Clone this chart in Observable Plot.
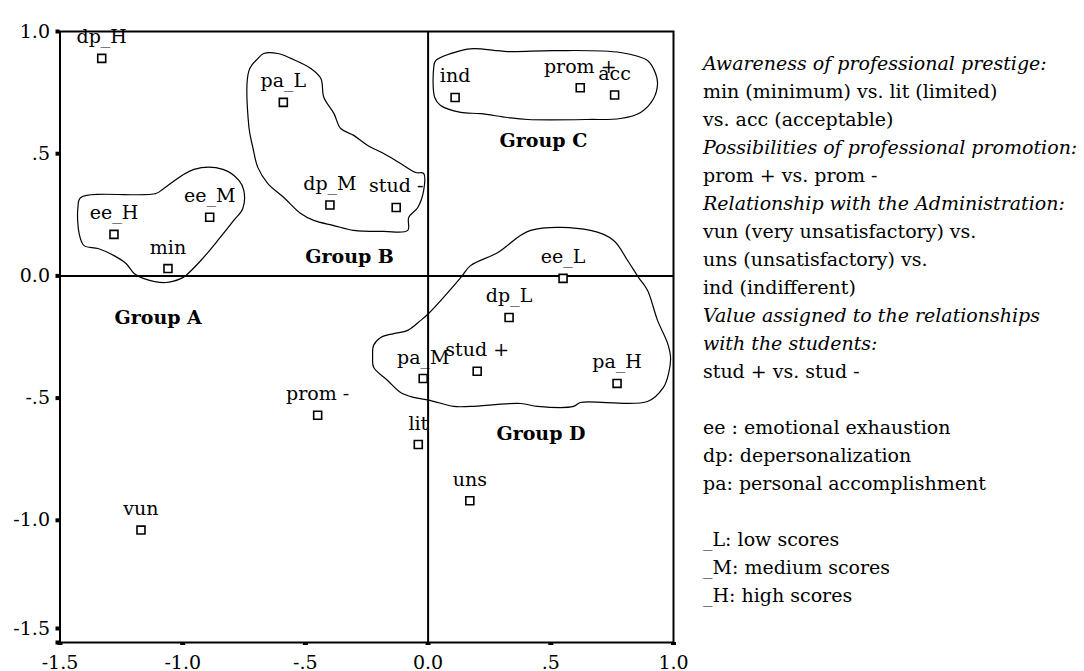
<!DOCTYPE html>
<html><head><meta charset="utf-8">
<script src="https://cdn.jsdelivr.net/npm/d3@7"></script>
<script src="https://cdn.jsdelivr.net/npm/@observablehq/plot@0.6"></script>
<style>
body{margin:0;background:#fff;}
#chart{position:absolute;left:0;top:0;}
#legend{position:absolute;left:703px;top:49px;font-family:"DejaVu Serif";font-size:19px;line-height:28px;white-space:nowrap;color:#000;}
</style></head><body>
<div id="chart"></div><div id="legend"></div>
<script>
// Points (dimension 1, dimension 2)
const pointLabels = ["dp_H","pa_L","ee_H","ee_M","min","dp_M","stud -","ind","prom +","acc","ee_L","dp_L","pa_M","stud +","pa_H","lit","uns","prom -","vun"];
const dim1 = [-1.33,-0.59,-1.28,-0.89,-1.06,-0.40,-0.13,0.11,0.62,0.76,0.55,0.33,-0.02,0.20,0.77,-0.04,0.17,-0.45,-1.17];
const dim2 = [0.89,0.71,0.17,0.24,0.03,0.29,0.28,0.73,0.77,0.74,-0.01,-0.17,-0.42,-0.39,-0.44,-0.69,-0.92,-0.57,-1.04];

// Group names and label anchors
const groupNames = ["Group A","Group B","Group C","Group D"];
const groupLabelX = [-1.10,-0.32,0.47,0.46];
const groupLabelY = [-0.195,0.051,0.529,-0.673];

// Group outlines (traced)
const outlineA_x = [-1.415,-1.109,-1.077,-0.954,-0.836,-0.771,-0.751,-0.755,-0.792,-0.857,-0.926,-0.987,-1.008,-1.069,-1.158,-1.198,-1.231,-1.280,-1.345,-1.402,-1.422,-1.427];
const outlineA_y = [0.321,0.337,0.358,0.436,0.436,0.391,0.350,0.276,0.227,0.145,0.063,0.002,-0.011,-0.027,-0.011,0.010,0.051,0.083,0.112,0.124,0.173,0.280];
const outlineB_x = [-0.670,-0.612,-0.559,-0.478,-0.437,-0.425,-0.384,-0.356,-0.303,-0.246,-0.181,-0.112,-0.050,-0.018,-0.018,-0.042,-0.079,-0.083,-0.181,-0.303,-0.384,-0.466,-0.519,-0.588,-0.653,-0.694,-0.714,-0.730,-0.730,-0.694];
const outlineB_y = [0.910,0.910,0.890,0.849,0.808,0.731,0.665,0.603,0.575,0.534,0.501,0.460,0.423,0.419,0.350,0.280,0.239,0.186,0.182,0.186,0.206,0.227,0.255,0.321,0.378,0.444,0.525,0.607,0.840,0.889];
const outlineC_x = [0.031,0.133,0.186,0.324,0.511,0.784,0.894,0.927,0.935,0.919,0.866,0.784,0.650,0.406,0.324,0.214,0.133,0.051,0.027,0.023];
const outlineC_y = [0.881,0.922,0.930,0.918,0.922,0.914,0.881,0.828,0.787,0.726,0.669,0.644,0.640,0.640,0.648,0.664,0.669,0.697,0.730,0.853];
const outlineD_x = [0.002,0.133,0.173,0.283,0.418,0.662,0.756,0.813,0.858,0.894,0.935,0.976,0.988,0.980,0.959,0.894,0.621,0.593,0.446,0.377,0.173,0.104,0.011,-0.059,-0.112,-0.165,-0.222,-0.226,-0.222,-0.193,-0.140,-0.083,-0.030];
const outlineD_y = [-0.154,-0.007,0.042,0.095,0.186,0.186,0.145,0.063,-0.007,-0.059,-0.182,-0.276,-0.333,-0.399,-0.456,-0.514,-0.518,-0.534,-0.534,-0.522,-0.534,-0.534,-0.510,-0.497,-0.477,-0.428,-0.374,-0.333,-0.284,-0.252,-0.236,-0.223,-0.182];

// Axis ticks
const tickValues = [-1.5,-1,-0.5,0,0.5,1];
const tickLabels = ["-1.5","-1.0","-.5","0.0",".5","1.0"];

// Legend text
const legendLines = [
  "Awareness of professional prestige:",
  "min (minimum) vs. lit (limited)",
  "vs. acc (acceptable)",
  "Possibilities of professional promotion:",
  "prom + vs. prom -",
  "Relationship with the Administration:",
  "vun (very unsatisfactory) vs.",
  "uns (unsatisfactory) vs.",
  "ind (indifferent)",
  "Value assigned to the relationships",
  "with the students:",
  "stud + vs. stud -",
  "",
  "ee : emotional exhaustion",
  "dp: depersonalization",
  "pa: personal accomplishment",
  "",
  "_L: low scores",
  "_M: medium scores",
  "_H: high scores"
];
const legendItalic = [true,false,false,true,false,true,false,false,false,true,true,false,false,false,false,false,false,false,false,false];

const points = pointLabels.map((label, i) => ({label, x: dim1[i], y: dim2[i]}));
const groups = groupNames.map((name, i) => ({name, x: groupLabelX[i], y: groupLabelY[i]}));
const outlines = [];
[["A", outlineA_x, outlineA_y], ["B", outlineB_x, outlineB_y], ["C", outlineC_x, outlineC_y], ["D", outlineD_x, outlineD_y]]
  .forEach(([g, xs, ys]) => xs.forEach((x, i) => outlines.push({group: g, x, y: ys[i]})));
const fmt = d => tickLabels[tickValues.indexOf(d)];

const chart = Plot.plot({
  width: 700, height: 671,
  marginLeft: 59.5, marginRight: 27, marginTop: 31, marginBottom: 29,
  x: {domain: [-1.5, 1], label: null},
  y: {domain: [-1.5, 1], label: null},
  style: {fontFamily: "DejaVu Serif", fontSize: "19px", color: "black", background: "white", overflow: "visible"},
  marks: [
    Plot.line(outlines, {x: "x", y: "y", z: "group", curve: "catmull-rom-closed", stroke: "black", strokeWidth: 1.2}),
    Plot.ruleX([0], {stroke: "black", strokeWidth: 2}),
    Plot.ruleY([0], {stroke: "black", strokeWidth: 2}),
    Plot.frame({stroke: "black", strokeWidth: 2}),
    Plot.axisY({ticks: tickValues, tickSize: 4, strokeWidth: 4, tickPadding: 6, tickFormat: d => d === -1.5 ? "" : fmt(d), fill: "black"}),
    Plot.axisY({ticks: [-1.5], tickSize: 4, strokeWidth: 4, tickPadding: 6, tickFormat: fmt, dy: -14, fill: "black"}),
    Plot.axisX({ticks: tickValues, tickSize: 3, strokeWidth: 5, tickPadding: 10, tickFormat: fmt, fill: "black"}),
    Plot.dot(points, {x: "x", y: "y", symbol: "square", r: 4.5, stroke: "black", strokeWidth: 1.6, fill: "white"}),
    Plot.text(points, {x: "x", y: "y", text: "label", dy: -15, lineAnchor: "bottom", fontSize: 19, fill: "black"}),
    Plot.text(groups, {x: "x", y: "y", text: "name", lineAnchor: "bottom", fontSize: 19, fontWeight: "bold", fill: "black"})
  ]
});
document.getElementById("chart").appendChild(chart);

const legend = document.getElementById("legend");
legendLines.forEach((t, i) => {
  const div = document.createElement("div");
  div.style.height = "28px";
  if (legendItalic[i]) div.style.fontStyle = "italic";
  div.textContent = t;
  legend.appendChild(div);
});
</script>
</body></html>
